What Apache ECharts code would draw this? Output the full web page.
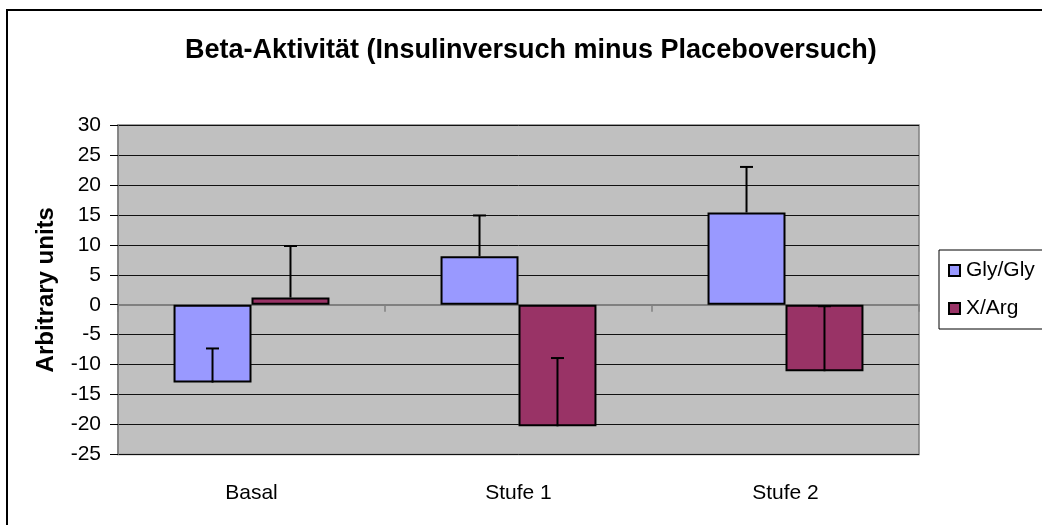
<!DOCTYPE html>
<html>
<head>
<meta charset="utf-8">
<title>Beta-Aktivität</title>
<script src="https://cdn.jsdelivr.net/npm/echarts@6/dist/echarts.min.js"></script>
<style>
  html, body { margin: 0; padding: 0; background: #fff; }
  #chart { width: 1042px; height: 525px; }
</style>
</head>
<body>
<div id="chart"></div>
<script>
// Daten
const categories = ['Basal', 'Stufe 1', 'Stufe 2']
const glyGly = [-13.0, 8.1, 15.4]
const xArg = [1.2, -20.3, -11.1]
// Fehlerbalken (nur nach oben)
const glyGlyErr = [5.7, 6.8, 7.6]
const xArgErr = [8.6, 11.4, 10.85]
const yTicks = { min: -25, max: 30, step: 5 }

const FONT = '"Liberation Sans", Arial, sans-serif'
const BAR_FRAC = 0.292 // Balkenbreite relativ zur Kategorie

const chart = echarts.init(document.getElementById('chart'))

// Fehlerbalken als custom series
const errorRenderer = (side) => (params, api) => {
  const idx = api.value(0)
  const start = api.coord([idx, api.value(1)])
  const end = api.coord([idx, api.value(2)])
  const band = api.size([1, 0])[0]
  const cx = start[0] + side * band * BAR_FRAC / 2
  const style = { stroke: '#000', lineWidth: 2 }
  return {
    type: 'group',
    children: [
      { type: 'line', shape: { x1: cx, y1: start[1], x2: cx, y2: end[1] }, style },
      { type: 'line', shape: { x1: cx - 6.5, y1: end[1], x2: cx + 6.5, y2: end[1] }, style }
    ]
  }
}

const errData = (vals, errs) => vals.map((v, i) => [i, v, v + errs[i]])

const option = {
  backgroundColor: '#fff',
  animation: false,
  textStyle: { fontFamily: FONT },
  title: {
    text: 'Beta-Aktivität (Insulinversuch minus Placeboversuch)',
    left: 185,
    top: 37,
    padding: 0,
    textStyle: { fontFamily: FONT, fontSize: 27, fontWeight: 'bold', color: '#000' }
  },
  legend: {
    data: ['Gly/Gly', 'X/Arg'],
    orient: 'vertical',
    left: 939,
    top: 250,
    padding: [10, 40, 10, 9],
    itemGap: 17,
    itemWidth: 11,
    itemHeight: 11,
    icon: 'rect',
    borderColor: '#000',
    borderWidth: 1,
    textStyle: { fontFamily: FONT, fontSize: 21, color: '#000', padding: [0, 0, 0, 1] }
  },
  grid: {
    left: 118,
    right: 123,
    top: 125,
    bottom: 70.5,
    show: true,
    backgroundColor: '#C0C0C0',
    borderColor: '#808080',
    borderWidth: 1.5
  },
  xAxis: [
    {
      type: 'category',
      data: categories,
      position: 'bottom',
      axisLine: { show: false, onZero: false },
      axisTick: { show: false },
      axisLabel: { color: '#000', fontFamily: FONT, fontSize: 21, margin: 28 }
    },
    {
      type: 'category',
      data: categories,
      position: 'bottom',
      axisLine: { show: true, onZero: true, lineStyle: { color: '#808080', width: 2 } },
      axisTick: { show: true, length: 7, lineStyle: { color: '#808080', width: 1.5 } },
      axisLabel: { show: false }
    }
  ],
  yAxis: {
    type: 'value',
    min: yTicks.min,
    max: yTicks.max,
    interval: yTicks.step,
    name: 'Arbitrary units',
    nameLocation: 'middle',
    nameRotate: 90,
    nameGap: 60,
    nameTextStyle: { fontFamily: FONT, fontSize: 24, fontWeight: 'bold', color: '#000' },
    axisLine: { show: true, lineStyle: { color: '#808080', width: 1.5 } },
    axisTick: { show: true, length: 8, lineStyle: { color: '#000' } },
    axisLabel: { color: '#000', fontFamily: FONT, fontSize: 21, margin: 17 },
    splitLine: { show: true, lineStyle: { color: '#111', width: 1 } }
  },
  series: [
    {
      name: 'Gly/Gly',
      type: 'bar',
      data: glyGly,
      barGap: '0%',
      barCategoryGap: '41.6%',
      itemStyle: { color: '#9999FF', borderColor: '#000', borderWidth: 2 },
      z: 2
    },
    {
      name: 'X/Arg',
      type: 'bar',
      data: xArg,
      barGap: '0%',
      barCategoryGap: '41.6%',
      itemStyle: { color: '#993366', borderColor: '#000', borderWidth: 2 },
      z: 2
    },
    {
      type: 'custom',
      name: 'err-gly',
      renderItem: errorRenderer(-1),
      encode: { x: 0, y: [1, 2] },
      data: errData(glyGly, glyGlyErr),
      z: 5
    },
    {
      type: 'custom',
      name: 'err-arg',
      renderItem: errorRenderer(1),
      encode: { x: 0, y: [1, 2] },
      data: errData(xArg, xArgErr),
      z: 5
    }
  ],
  graphic: [
    {
      type: 'rect',
      shape: { x: 7, y: 10, width: 1100, height: 600 },
      style: { fill: 'none', stroke: '#000', lineWidth: 2 },
      silent: true
    }
  ]
}

chart.setOption(option)
</script>
</body>
</html>
